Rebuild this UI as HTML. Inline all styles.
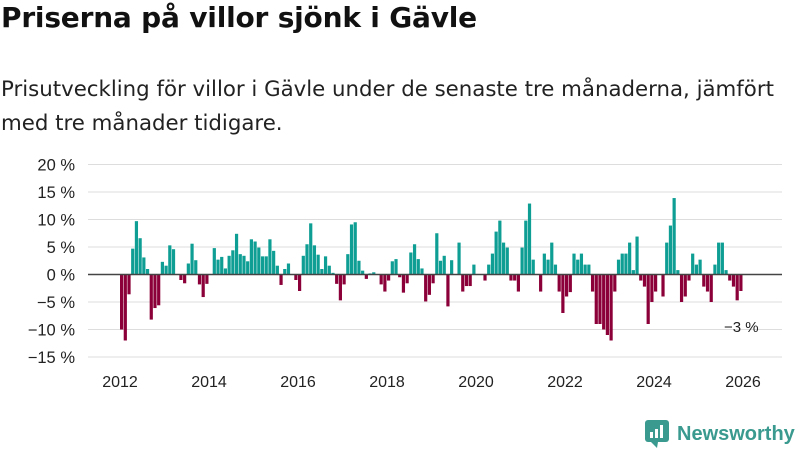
<!DOCTYPE html>
<html><head><meta charset="utf-8"><style>
body{margin:0;width:800px;height:450px;background:#fff;overflow:hidden;font-family:"Liberation Sans",sans-serif;color:#111}
#title{position:absolute;left:1px;top:1px;font-size:28px;font-weight:bold;margin:0;font-family:"DejaVu Sans",sans-serif;letter-spacing:-0.2px}
#sub{position:absolute;left:1px;top:73px;font-size:21.3px;line-height:34px;width:792px;color:#222;font-family:"DejaVu Sans",sans-serif}
svg{position:absolute;left:0;top:0}
</style></head><body>
<h1 id="title">Priserna på villor sjönk i Gävle</h1>
<div id="sub">Prisutveckling för villor i Gävle under de senaste tre månaderna, jämfört med tre månader tidigare.</div>
<svg id="chart" width="800" height="450"></svg>
<script>
const yTicks=[20,15,10,5,0,-5,-10,-15];
const xYears=[2012,2014,2016,2018,2020,2022,2024,2026];
const values=[-10,-12,-3.6,4.7,9.7,6.6,3.1,1,-8.2,-6.1,-5.6,2.3,1.6,5.3,4.6,0,-1,-1.6,2,5.6,2.6,-1.8,-4.1,-1.7,0,4.8,2.7,3.2,1.1,3.4,4.4,7.4,3.7,3.4,2.4,6.4,6,4.9,3.3,3.3,6.4,4.3,1.6,-1.9,1,2,0,-1,-3,3.4,5.5,9.3,5.3,3.6,1,3.3,1.6,0.3,-1.7,-4.7,-1.8,3.7,9.1,9.5,2.5,0.7,-0.8,0.2,0.4,0,-1.8,-3.1,-1.1,2.4,2.8,-0.5,-3.3,-1.6,4,5.5,2.8,1.1,-4.9,-3.7,-1.6,7.5,2.5,3.4,-5.8,2.6,0,5.8,-3.1,-2.1,-2.1,1.8,0,0,-1.1,1.8,3.8,7.8,9.8,5.8,4.9,-1.1,-1.1,-3.1,4.9,9.8,12.9,2.7,0,-3.1,3.8,2.7,5.8,1.8,-3.1,-7,-4,-3.2,3.8,2.7,3.8,1.8,1.8,-3.1,-9,-9,-10,-11,-12,-3.1,2.7,3.8,3.8,5.8,0.8,6.9,-1.1,-2.2,-9,-5,-3.1,0,-4,5.8,8.9,13.9,0.8,-5,-4,-1.1,3.8,1.8,2.7,-2.2,-3.1,-5,1.8,5.8,5.8,0.8,-1.1,-2.2,-4.7,-3];
const startYear=2012;
const svg=document.getElementById('chart');
const NS='http://www.w3.org/2000/svg';
const y=v=>274.5-v*5.5;
const xYear=yr=>120+(yr-2012)*44.5;
const xMonth=i=>xYear(startYear+i/12);
function mk(t,a,txt){const e=document.createElementNS(NS,t);for(const k in a)e.setAttribute(k,a[k]);if(txt!==undefined)e.textContent=txt;svg.appendChild(e);return e;}
yTicks.forEach(v=>{
  const g=mk('line',{x1:88,x2:782,y1:y(v),y2:y(v),stroke:'#dddddd','stroke-width':1});
  
  
  const t=mk('text',{x:75,y:y(v)+6,'text-anchor':'end','font-size':16.5,fill:'#222','font-family':'Liberation Sans, sans-serif'},(v<0?'\u2212'+(-v):v)+' %');
  
  
});
values.forEach((v,i)=>{
  const x=xMonth(i);
  const r=mk('rect',{x:x,y:Math.min(y(v),y(0)),width:3.2,height:Math.abs(y(v)-y(0)),fill:v>=0?'#0f9e94':'#8b0038'});
  
  
});
const ax=mk('line',{x1:88,x2:782,y1:y(0),y2:y(0),stroke:'#444','stroke-width':1.6});


xYears.forEach(yr=>{
  const t=mk('text',{x:xYear(yr),y:387,'text-anchor':'middle','font-size':16,fill:'#222','font-family':'Liberation Sans, sans-serif'},yr);
  
  
});
const last=values[values.length-1];
const lab=mk('text',{x:xMonth(values.length-1)+2,y:y(last)+41,'text-anchor':'middle','font-size':15,fill:'#222','font-family':'Liberation Sans, sans-serif'},'\u2212'+Math.abs(Math.round(last))+' %');


</script>
<div style="position:absolute;left:645px;top:420px;display:flex;align-items:center">
 <svg width="24" height="28" style="position:static"><rect x="0" y="0" width="24" height="22" rx="3" fill="#3a9a8f"/><path d="M6 22 L12 28 L13 22Z" fill="#3a9a8f"/><rect x="5" y="12" width="3" height="6" fill="#fff"/><rect x="10" y="9" width="3" height="9" fill="#fff"/><rect x="15" y="5" width="3" height="13" fill="#fff"/></svg>
 <span style="font-size:20px;color:#3a9a8f;margin-left:8px;font-weight:bold">Newsworthy</span>
</div>
</body></html>
